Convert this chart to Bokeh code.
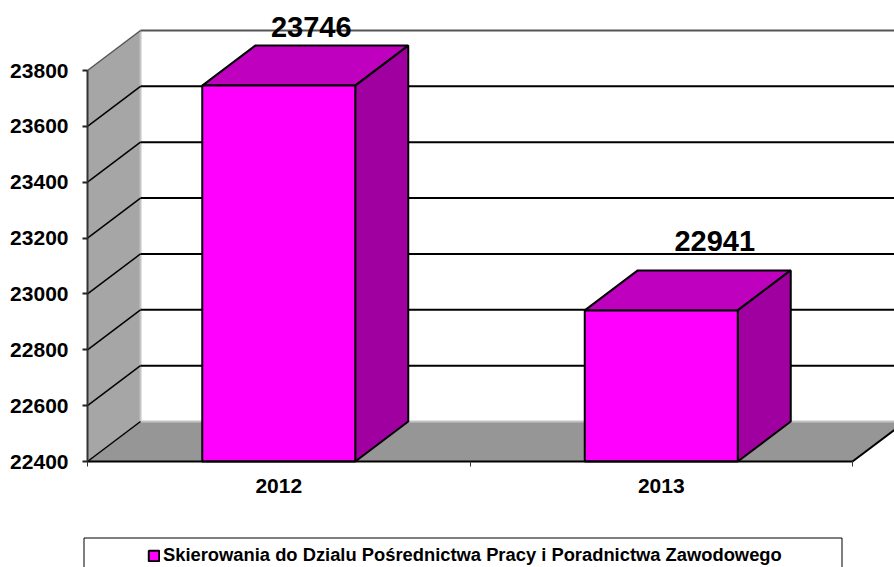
from bokeh.plotting import figure
from bokeh.models import (FixedTicker, Range1d, Legend, LegendItem, BoxAnnotation, ColumnDataSource)
from bokeh.core.properties import value
from bokeh.embed import file_html
from bokeh.resources import INLINE

years = ["2012", "2013"]
values = [23746, 22941]
y_ticks = [22400, 22600, 22800, 23000, 23200, 23400, 23600, 23800]
series_name = "Skierowania do Dzialu Pośrednictwa Pracy i Poradnictwa Zawodowego"

FONT = "Liberation Sans"
W, H = 894, 567
PLOT_L, FLOOR_Y = 87, 461
px_x = 382.5          # pixels per category
px_y = 391 / 1400     # pixels per value unit
DX = 53 / px_x        # depth in data units
DY = 40 / px_y
BAR_W = 0.4
ymin, ymax = y_ticks[0], y_ticks[-1]
n = len(years)

p = figure(width=W, height=H, output_backend="svg", toolbar_location=None,
           min_border_left=0, min_border_right=0, min_border_top=0,
           min_border_bottom=0, outline_line_color=None,
           x_range=Range1d(-PLOT_L / px_x, (W - PLOT_L) / px_x),
           y_range=Range1d(ymin - (H - FLOOR_Y) / px_y, ymin + FLOOR_Y / px_y))
p.grid.visible = False

# side wall and floor
p.patch([0, DX, DX, 0], [ymin, ymin + DY, ymax + DY, ymax], fill_color="#A6A6A6", line_color=None)
p.patch([0, n, n + DX, DX], [ymin, ymin, ymin + DY, ymin + DY], fill_color="#969696", line_color=None)
p.line([DX, DX], [ymin + DY, ymax + DY], line_color="#C4C4C4", line_width=2)
p.line([DX, n + DX], [ymin + DY, ymin + DY], line_color="#C4C4C4", line_width=2)
p.line([DX, n + DX], [ymax + DY, ymax + DY], line_color="#555555", line_width=2)
p.line([0, DX], [ymax, ymax + DY], line_color="#555555", line_width=1.5)
# grid
inner = y_ticks[1:-1]
p.segment([DX] * len(inner), [t + DY for t in inner], [n + DX] * len(inner), [t + DY for t in inner],
          line_color="black", line_width=2)
p.segment([0] * len(y_ticks[:-1]), y_ticks[:-1], [DX] * len(y_ticks[:-1]), [t + DY for t in y_ticks[:-1]],
          line_color="black", line_width=1.5)
p.line([n, n + DX], [ymin, ymin + DY], line_color="black", line_width=2)

# bars
lefts = [i + 0.5 - BAR_W / 2 for i in range(n)]
rights = [i + 0.5 + BAR_W / 2 for i in range(n)]
p.patches([[l, r, r + DX, l + DX] for l, r in zip(lefts, rights)],
          [[v, v, v + DY, v + DY] for v in values],
          fill_color="#BF00BF", line_color="black", line_width=2)
p.patches([[r, r + DX, r + DX, r] for r in rights],
          [[ymin, ymin + DY, v + DY, v] for v in values],
          fill_color="#9F009F", line_color="black", line_width=2)
front = p.quad(left=lefts, right=rights, bottom=ymin, top=values,
               fill_color="#FF00FF", line_color="black", line_width=2)

# value labels
src = ColumnDataSource(dict(x=[i + 0.5 for i in range(n)], y=values,
                            t=[str(v) for v in values], dx=[32.5, 53.5], dy=[-59, -69]))
p.text(x="x", y="y", text="t", x_offset="dx", y_offset="dy", source=src,
       text_font=value(FONT), text_font_style="bold", text_font_size="29px",
       text_align="center", text_baseline="middle", text_color="black")

# axes
ya = p.yaxis[0]
ya.fixed_location = 0
ya.ticker = FixedTicker(ticks=y_ticks)
ya.bounds = (ymin, ymax)
ya.minor_tick_line_color = None
ya.major_tick_in = 0
ya.major_tick_out = 5
ya.major_tick_line_width = 2
ya.major_tick_line_color = "#222222"
ya.axis_line_width = 2
ya.axis_line_color = "#333333"
ya.major_label_standoff = 14
ya.major_label_text_font = FONT
ya.major_label_text_font_style = "bold"
ya.major_label_text_font_size = "21px"
ya.major_label_text_color = "black"

xa = p.xaxis[0]
xa.fixed_location = ymin
xa.ticker = FixedTicker(ticks=[i + 0.5 for i in range(n)], minor_ticks=list(range(n + 1)))
xa.major_label_overrides = {i + 0.5: y for i, y in enumerate(years)}
xa.bounds = (0, n)
xa.major_tick_line_color = None
xa.major_tick_in = 0
xa.major_tick_out = 0
xa.minor_tick_in = 0
xa.minor_tick_out = 5
xa.minor_tick_line_color = "#333333"
xa.axis_line_width = 2
xa.axis_line_color = "black"
xa.major_label_standoff = 12
xa.major_label_text_font = FONT
xa.major_label_text_font_style = "bold"
xa.major_label_text_font_size = "21px"
xa.major_label_text_color = "black"

# legend frame and legend
p.add_layout(BoxAnnotation(left=83.5, right=841.5, top=537.5, bottom=H + 40,
                           left_units="canvas", right_units="canvas",
                           top_units="canvas", bottom_units="canvas",
                           fill_color="white", fill_alpha=1, line_color="black", line_alpha=1, line_width=1))
leg = Legend(items=[LegendItem(label=series_name, renderers=[front])],
             location=(147, 1), border_line_color=None, background_fill_alpha=0,
             padding=0, margin=0, glyph_width=13, glyph_height=13, label_standoff=3,
             label_text_font=FONT, label_text_font_style="bold", label_text_font_size="18.35px",
             label_text_color="black")
p.add_layout(leg)

open("out.html", "w").write(file_html(p, INLINE))
